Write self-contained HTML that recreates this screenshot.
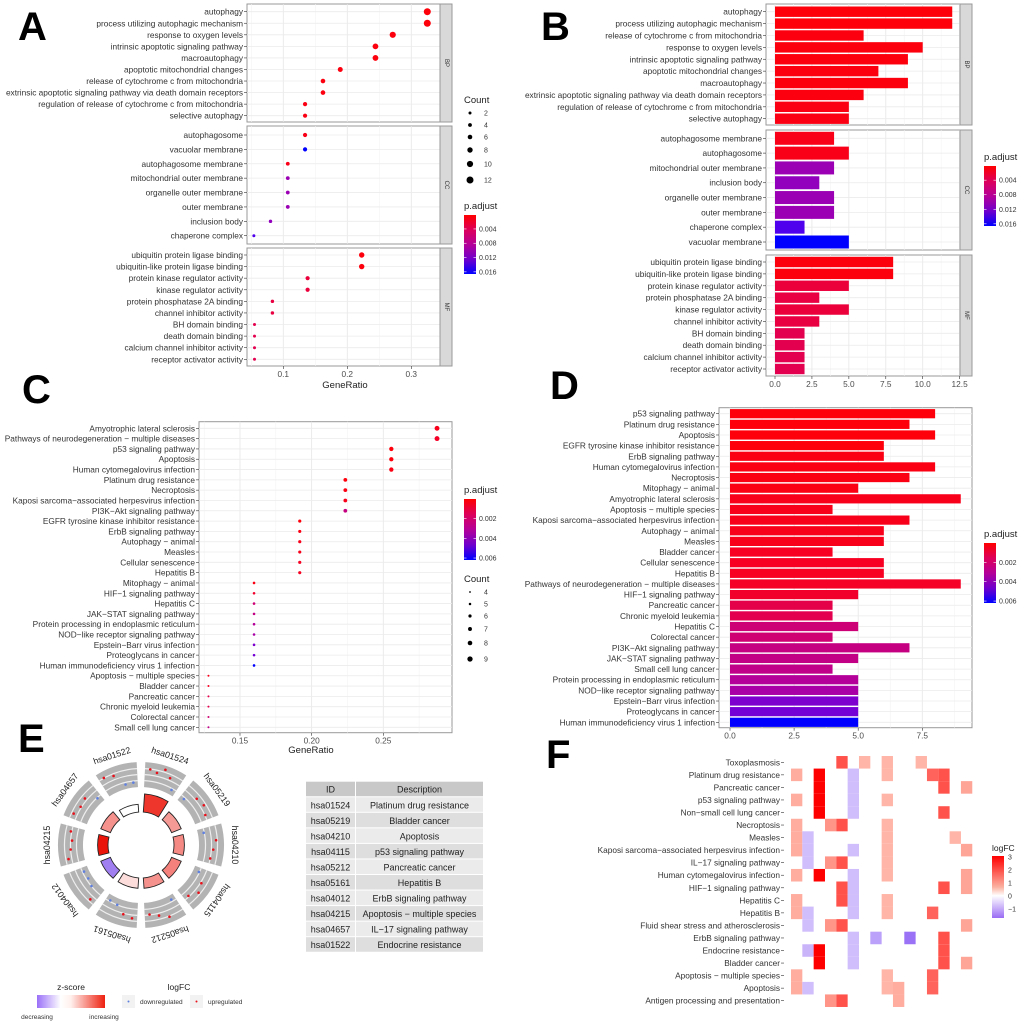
<!DOCTYPE html>
<html><head><meta charset="utf-8"><style>
html,body{margin:0;padding:0;background:#fff;}
svg{display:block;font-family:"Liberation Sans",Arial,sans-serif;}
.lab{font-size:8.3px;fill:#333;}
.tick{font-size:8.3px;fill:#4d4d4d;}
.ttl{font-size:9.5px;fill:#222;}
.leg{font-size:7px;fill:#333;}
.big{font-size:40px;font-weight:bold;fill:#000;}
</style></head><body>
<svg id="fig" width="1020" height="1024" viewBox="0 0 1020 1024">
<text class="big" x="18" y="40">A</text>
<text class="big" x="541" y="40">B</text>
<text class="big" x="22" y="403">C</text>
<text class="big" x="550" y="399">D</text>
<text class="big" x="18" y="752">E</text>
<text class="big" x="546" y="768">F</text>
</svg>
<script>
// ---------- DATA ----------
const aBPTerms=["autophagy","process utilizing autophagic mechanism","response to oxygen levels","intrinsic apoptotic signaling pathway","macroautophagy","apoptotic mitochondrial changes","release of cytochrome c from mitochondria","extrinsic apoptotic signaling pathway via death domain receptors","regulation of release of cytochrome c from mitochondria","selective autophagy"];
const aBPRatio=[0.325,0.325,0.271,0.244,0.244,0.189,0.162,0.162,0.134,0.134];
const aBPCount=[12,12,10,9,9,7,6,6,5,5];
const aBPP=[0.0003,0.0003,0.0004,0.0004,0.0004,0.0005,0.0005,0.0005,0.0006,0.0006];
const aCCTerms=["autophagosome","vacuolar membrane","autophagosome membrane","mitochondrial outer membrane","organelle outer membrane","outer membrane","inclusion body","chaperone complex"];
const aCCRatio=[0.134,0.134,0.107,0.107,0.107,0.107,0.080,0.054];
const aCCCount=[5,5,4,4,4,4,3,2];
const aCCP=[0.0008,0.0166,0.0008,0.0105,0.0105,0.0105,0.0112,0.0150];
const aMFTerms=["ubiquitin protein ligase binding","ubiquitin-like protein ligase binding","protein kinase regulator activity","kinase regulator activity","protein phosphatase 2A binding","channel inhibitor activity","BH domain binding","death domain binding","calcium channel inhibitor activity","receptor activator activity"];
const aMFRatio=[0.2225,0.2225,0.138,0.138,0.083,0.083,0.055,0.055,0.055,0.055];
const aMFCount=[8,8,5,5,3,3,2,2,2,2];
const aMFP=[0.0004,0.0004,0.0025,0.0025,0.0028,0.0028,0.0035,0.0035,0.0035,0.0035];
const aXTicks=[0.1,0.2,0.3];
const aSizeLegend=[2,4,6,8,10,12];

const bBPTerms=["autophagy","process utilizing autophagic mechanism","release of cytochrome c from mitochondria","response to oxygen levels","intrinsic apoptotic signaling pathway","apoptotic mitochondrial changes","macroautophagy","extrinsic apoptotic signaling pathway via death domain receptors","regulation of release of cytochrome c from mitochondria","selective autophagy"];
const bBPCount=[12,12,6,10,9,7,9,6,5,5];
const bBPP=[0.0003,0.0003,0.0005,0.0004,0.0004,0.0005,0.0004,0.0005,0.0006,0.0006];
const bCCTerms=["autophagosome membrane","autophagosome","mitochondrial outer membrane","inclusion body","organelle outer membrane","outer membrane","chaperone complex","vacuolar membrane"];
const bCCCount=[4,5,4,3,4,4,2,5];
const bCCP=[0.0008,0.0008,0.0105,0.0112,0.0105,0.0105,0.0150,0.0166];
const bMFTerms=["ubiquitin protein ligase binding","ubiquitin-like protein ligase binding","protein kinase regulator activity","protein phosphatase 2A binding","kinase regulator activity","channel inhibitor activity","BH domain binding","death domain binding","calcium channel inhibitor activity","receptor activator activity"];
const bMFCount=[8,8,5,3,5,3,2,2,2,2];
const bMFP=[0.0004,0.0004,0.0025,0.0028,0.0025,0.0028,0.0035,0.0035,0.0035,0.0035];
const bXTicks=[0,2.5,5,7.5,10,12.5];

const cTerms=["Amyotrophic lateral sclerosis","Pathways of neurodegeneration \u2212 multiple diseases","p53 signaling pathway","Apoptosis","Human cytomegalovirus infection","Platinum drug resistance","Necroptosis","Kaposi sarcoma\u2212associated herpesvirus infection","PI3K\u2212Akt signaling pathway","EGFR tyrosine kinase inhibitor resistance","ErbB signaling pathway","Autophagy \u2212 animal","Measles","Cellular senescence","Hepatitis B","Mitophagy \u2212 animal","HIF\u22121 signaling pathway","Hepatitis C","JAK\u2212STAT signaling pathway","Protein processing in endoplasmic reticulum","NOD\u2212like receptor signaling pathway","Epstein\u2212Barr virus infection","Proteoglycans in cancer","Human immunodeficiency virus 1 infection","Apoptosis \u2212 multiple species","Bladder cancer","Pancreatic cancer","Chronic myeloid leukemia","Colorectal cancer","Small cell lung cancer"];
const cRatio=[0.2875,0.2875,0.2556,0.2556,0.2556,0.2235,0.2235,0.2235,0.2235,0.1917,0.1917,0.1917,0.1917,0.1917,0.1917,0.1598,0.1598,0.1598,0.1598,0.1598,0.1598,0.1598,0.1598,0.1598,0.128,0.128,0.128,0.128,0.128,0.128];
const cCount=[9,9,8,8,8,7,7,7,7,6,6,6,6,6,6,5,5,5,5,5,5,5,5,5,4,4,4,4,4,4];
const cP=[0.0003,0.0005,0.0001,0.0001,0.0002,0.0001,0.0002,0.0003,0.0025,0.0001,0.0002,0.0003,0.0003,0.0004,0.0004,0.0002,0.0006,0.0022,0.0026,0.0031,0.0035,0.0047,0.0049,0.0062,0.0003,0.0004,0.0012,0.0013,0.0021,0.0027];
const cXTicks=[0.15,0.20,0.25];
const cSizeLegend=[4,5,6,7,8,9];

const dTerms=["p53 signaling pathway","Platinum drug resistance","Apoptosis","EGFR tyrosine kinase inhibitor resistance","ErbB signaling pathway","Human cytomegalovirus infection","Necroptosis","Mitophagy \u2212 animal","Amyotrophic lateral sclerosis","Apoptosis \u2212 multiple species","Kaposi sarcoma\u2212associated herpesvirus infection","Autophagy \u2212 animal","Measles","Bladder cancer","Cellular senescence","Hepatitis B","Pathways of neurodegeneration \u2212 multiple diseases","HIF\u22121 signaling pathway","Pancreatic cancer","Chronic myeloid leukemia","Hepatitis C","Colorectal cancer","PI3K\u2212Akt signaling pathway","JAK\u2212STAT signaling pathway","Small cell lung cancer","Protein processing in endoplasmic reticulum","NOD\u2212like receptor signaling pathway","Epstein\u2212Barr virus infection","Proteoglycans in cancer","Human immunodeficiency virus 1 infection"];
const dCount=[8,7,8,6,6,8,7,5,9,4,7,6,6,4,6,6,9,5,4,4,5,4,7,5,4,5,5,5,5,5];
const dP=[0.0001,0.0001,0.0001,0.0001,0.0002,0.0002,0.0002,0.0002,0.0003,0.0003,0.0003,0.0003,0.0003,0.0004,0.0004,0.0004,0.0005,0.0006,0.0012,0.0013,0.0022,0.0021,0.0025,0.0026,0.0027,0.0031,0.0035,0.0047,0.0049,0.0062];
const dXTicks=[0,2.5,5,7.5];

const eIds=["hsa01524","hsa05219","hsa04210","hsa04115","hsa05212","hsa05161","hsa04012","hsa04215","hsa04657","hsa01522"];
const eDesc=["Platinum drug resistance","Bladder cancer","Apoptosis","p53 signaling pathway","Pancreatic cancer","Hepatitis B","ErbB signaling pathway","Apoptosis \u2212 multiple species","IL\u221217 signaling pathway","Endocrine resistance"];
const eZ=[2.4,1.2,1.4,1.5,1.3,0.4,-1.0,2.8,1.3,0];
const eCountRing=[7,4,4,4,4,4,4,4,4,3];
const eLogFC=[[2.0,1.5,2.6,1.3,-0.8],[-0.8,1.2,1.6,0.9],[-0.6,1.8,1.2,0.8],[-0.6,1.0,1.7,0.6],[-0.9,2.2,1.3,0.7],[1.5,1.0,-0.5,-0.7],[1.6,-0.5,-0.9,-0.8],[1.5,0.8,0.5,1.0],[1.6,1.0,1.3,-0.6],[2.1,1.6,-0.9,-0.8]];

const fRows=["Toxoplasmosis","Platinum drug resistance","Pancreatic cancer","p53 signaling pathway","Non\u2212small cell lung cancer","Necroptosis","Measles","Kaposi sarcoma\u2212associated herpesvirus infection","IL\u221217 signaling pathway","Human cytomegalovirus infection","HIF\u22121 signaling pathway","Hepatitis C","Hepatitis B","Fluid shear stress and atherosclerosis","ErbB signaling pathway","Endocrine resistance","Bladder cancer","Apoptosis \u2212 multiple species","Apoptosis","Antigen processing and presentation"];
const fCells=[
 [[4,2],[6,0.8],[8,0.8],[11,0.8]],
 [[0,0.9],[2,3],[5,-0.7],[8,0.8],[12,1.8],[13,2]],
 [[2,3],[5,-0.7],[13,2],[15,1]],
 [[0,0.9],[2,3],[5,-0.7],[8,0.8]],
 [[2,3],[5,-0.7],[13,2]],
 [[0,0.9],[3,1.2],[4,2],[8,0.8]],
 [[0,0.9],[1,-0.7],[8,0.8],[14,0.8]],
 [[0,0.9],[1,-0.7],[5,-0.7],[8,0.8],[15,1]],
 [[1,-0.7],[3,1.2],[4,2],[8,0.8]],
 [[0,0.9],[2,3],[5,-0.7],[8,0.8],[15,1]],
 [[4,2],[5,-0.7],[13,2],[15,1]],
 [[0,0.9],[4,2],[5,-0.7],[8,0.8]],
 [[0,0.9],[1,-0.7],[5,-0.7],[8,0.8],[12,1.8]],
 [[1,-0.7],[3,1.2],[4,2],[15,1]],
 [[5,-0.7],[7,-1.0],[10,-1.5],[13,2]],
 [[1,-0.8],[2,3],[5,-0.7],[13,2]],
 [[2,3],[5,-0.7],[13,2],[15,1]],
 [[0,0.9],[8,0.8],[12,1.8]],
 [[0,0.9],[1,-0.7],[8,0.8],[9,0.9],[12,1.8]],
 [[3,1.2],[4,2],[9,0.9]]];
const fLegendTicks=[3,2,1,0,-1];

// ---------- HELPERS ----------
const NS="http://www.w3.org/2000/svg";
const svg=document.getElementById('fig');
function mk(tag,attrs,parent,txt){const e=document.createElementNS(NS,tag);for(const k in attrs)e.setAttribute(k,attrs[k]);if(txt!==undefined)e.textContent=txt;(parent||svg).appendChild(e);return e;}
function pcol(p,lo,hi){let t=(p-lo)/(hi-lo);t=Math.max(0,Math.min(1,t));const r=Math.round(255*Math.sqrt(1-t)),b=Math.round(255*Math.pow(t,0.75));return `rgb(${r},0,${b})`;}
function fcol(v){if(v>=0){const t=Math.min(1,v/3);const g=Math.round(255*(1-t)*0.97);return `rgb(255,${g},${Math.round(g*0.92)})`;}const t=Math.min(1,-v/1.7);return `rgb(${Math.round(255-(255-140)*t)},${Math.round(255-(255-95)*t)},${Math.round(255-(255-245)*t)})`;}
function gradDef(id,stops,vertical){let defs=svg.querySelector('defs')||mk('defs',{});const g=mk('linearGradient',{id:id,x1:0,y1:0,x2:vertical?0:1,y2:vertical?1:0},defs);stops.forEach((s,i)=>mk('stop',{offset:s[0],'stop-color':s[1]},g));}
gradDef('pgrad',[[0,'#ff0000'],[0.25,'#dd005a'],[0.5,'#b40098'],[0.75,'#7000cc'],[1,'#0000ff']],true);

function panelBox(x0,x1,y0,y1,name){
  const r=mk('rect',{x:x0,y:y0,width:x1-x0,height:y1-y0,fill:'#fff',stroke:'#999','stroke-width':1});
  
}
function strip(x0,x1,y0,y1,txt,name){
  const r=mk('rect',{x:x0,y:y0,width:x1-x0,height:y1-y0,fill:'#d9d9d9',stroke:'#999','stroke-width':1});
  
  const cx=(x0+x1)/2,cy=(y0+y1)/2;
  const t=mk('text',{x:cx,y:cy,'font-size':6,fill:'#333','text-anchor':'middle','dominant-baseline':'central',transform:`rotate(90 ${cx} ${cy})`},svg,txt);
  
}
function rowLabels(terms,ys,xr,name){
  terms.forEach((s,i)=>{
    mk('line',{x1:xr+1,x2:xr+4,y1:ys[i],y2:ys[i],stroke:'#333','stroke-width':0.6});
    const t=mk('text',{x:xr,y:ys[i]+3,'text-anchor':'end',class:'lab'},svg,s);
    
  });
}
function vgrid(x0,x1,y0,y1,xs,minor){
  minor.filter(x=>x>x0&&x<x1).forEach(x=>mk('line',{x1:x,x2:x,y1:y0,y2:y1,stroke:'#f3f3f3','stroke-width':0.6}));
  xs.filter(x=>x>x0&&x<x1).forEach(x=>mk('line',{x1:x,x2:x,y1:y0,y2:y1,stroke:'#e6e6e6','stroke-width':0.8}));
}
function hgrid(x0,x1,ys){ys.forEach(y=>mk('line',{x1:x0,x2:x1,y1:y,y2:y,stroke:'#ebebeb','stroke-width':0.8}));}
function xTicks(ticks,sx,y,labelfn,name){
  ticks.forEach(v=>{const x=sx(v);mk('line',{x1:x,x2:x,y1:y,y2:y+3,stroke:'#333','stroke-width':0.6});
    const t=mk('text',{x:x,y:y+11,'text-anchor':'middle',class:'tick'},svg,labelfn(v));
    });
}
function colorbar(x,y0,y1,lo,hi,ticks,title,name){
  const tt=mk('text',{x:x,y:y0-6,class:'ttl','font-size':8.5},svg,title);
  
  const r=mk('rect',{x:x,y:y0,width:12,height:y1-y0,fill:'url(#pgrad)'});
  
  ticks.forEach(v=>{const y=y0+(v-lo)/(hi-lo)*(y1-y0);
    mk('line',{x1:x,x2:x+2.5,y1:y,y2:y,stroke:'#fff','stroke-width':0.6});mk('line',{x1:x+9.5,x2:x+12,y1:y,y2:y,stroke:'#fff','stroke-width':0.6});
    const t=mk('text',{x:x+15,y:y+2.5,class:'leg'},svg,v.toFixed(3));});
}
function sizeLegend(x,ys,vals,rf,title,ty,name){
  const tt=mk('text',{x:x,y:ty,class:'ttl','font-size':8.5},svg,title);
  
  vals.forEach((v,i)=>{const c=mk('circle',{cx:x+6,cy:ys[i],r:rf(v),fill:'#000'});
    
    const t=mk('text',{x:x+20,y:ys[i]+2.5,class:'leg'},svg,String(v));});
}
function rowsY(n,first,last){const o=[];for(let i=0;i<n;i++)o.push(n===1?first:first+(last-first)*i/(n-1));return o;}

// ---------- PANEL A ----------
(function(){
  const x0=247,x1=440,sx=v=>283.3+(v-0.1)*640;
  const rA=c=>1.1+c*0.2;
  const facets=[[aBPTerms,aBPRatio,aBPCount,aBPP,4,122,11.7,115.7,'BP'],[aCCTerms,aCCRatio,aCCCount,aCCP,126,244,135,235.7,'CC'],[aMFTerms,aMFRatio,aMFCount,aMFP,248,366,255,359.3,'MF']];
  facets.forEach(f=>{
    const [terms,ratio,count,pv,y0,y1,fy,ly,lab]=f;
    panelBox(x0,x1,y0,y1,'panel-a-facet-'+lab.toLowerCase());
    const ys=rowsY(terms.length,fy,ly);
    vgrid(x0,x1,y0,y1,aXTicks.map(sx),[0.15,0.25].map(sx).concat([sx(0.05)]));
    hgrid(x0,x1,ys);
    strip(x1,452,y0,y1,lab,'panel-a-strip-'+lab.toLowerCase());
    rowLabels(terms,ys,243,'panel-a-'+lab.toLowerCase());
    terms.forEach((s,i)=>{const c=mk('circle',{cx:sx(ratio[i]),cy:ys[i],r:rA(count[i]),fill:pcol(pv[i],0.0001,0.0166)});
      });
  });
  xTicks(aXTicks,sx,366,v=>v.toFixed(1),'panel-a-x-tick');
  const t=mk('text',{x:345,y:388,'text-anchor':'middle',class:'ttl','font-size':8.5},svg,'GeneRatio');
  
  sizeLegend(464,[113,125,137,150,164,180],aSizeLegend,rA,'Count',103,'panel-a-count-legend');
  colorbar(464,215,274,0.0001,0.0166,[0.004,0.008,0.012,0.016],'p.adjust','panel-a-padjust-legend');
})();

// ---------- PANEL B ----------
(function(){
  const x0=766,x1=960,sx=v=>775+v*14.77;
  const facets=[[bBPTerms,bBPCount,bBPP,4,125,11.7,118.7,'BP',10.4],[bCCTerms,bCCCount,bCCP,130,250,138.3,242,'CC',13],[bMFTerms,bMFCount,bMFP,255,376,262,369,'MF',10.4]];
  facets.forEach(f=>{
    const [terms,count,pv,y0,y1,fy,ly,lab,bh]=f;
    panelBox(x0,x1,y0,y1,'panel-b-facet-'+lab.toLowerCase());
    const ys=rowsY(terms.length,fy,ly);
    vgrid(x0,x1,y0,y1,bXTicks.map(sx),[1.25,3.75,6.25,8.75,11.25].map(sx));
    hgrid(x0,x1,ys);
    strip(x1,972,y0,y1,lab,'panel-b-strip-'+lab.toLowerCase());
    rowLabels(terms,ys,762,'panel-b-'+lab.toLowerCase());
    terms.forEach((s,i)=>{const r=mk('rect',{x:sx(0),y:ys[i]-bh/2,width:sx(count[i])-sx(0),height:bh,fill:pcol(pv[i],0.0001,0.0166)});
      });
  });
  xTicks(bXTicks,sx,376,v=>v.toFixed(1),'panel-b-x-tick');
  colorbar(984,166,226,0.0001,0.0166,[0.004,0.008,0.012,0.016],'p.adjust','panel-b-padjust-legend');
})();

// ---------- PANEL C ----------
(function(){
  const x0=199,x1=452,y0=421.7,y1=732.7,sx=v=>240+(v-0.15)*1433;
  const rC=c=>1.0+(c-4)*0.29;
  panelBox(x0,x1,y0,y1,'panel-c-plot');
  const ys=rowsY(cTerms.length,428.3,727.3);
  vgrid(x0,x1,y0,y1,cXTicks.map(sx),[0.125,0.175,0.225,0.275].map(sx));
  hgrid(x0,x1,ys);
  rowLabels(cTerms,ys,195,'panel-c');
  cTerms.forEach((s,i)=>{const c=mk('circle',{cx:sx(cRatio[i]),cy:ys[i],r:rC(cCount[i]),fill:pcol(cP[i],0,0.0062)});
    });
  xTicks(cXTicks,sx,732.7,v=>v.toFixed(2),'panel-c-x-tick');
  const t=mk('text',{x:311,y:753,'text-anchor':'middle',class:'ttl','font-size':8.5},svg,'GeneRatio');
  
  colorbar(464,499,560,0,0.0062,[0.002,0.004,0.006],'p.adjust','panel-c-padjust-legend');
  sizeLegend(464,[592,604,616,629,643,659],cSizeLegend,c=>0.9+(c-4)*0.35,'Count',582,'panel-c-count-legend');
})();

// ---------- PANEL D ----------
(function(){
  const x0=719,x1=972,y0=407.7,y1=727.7,sx=v=>730+v*25.64;
  panelBox(x0,x1,y0,y1,'panel-d-plot');
  const ys=rowsY(dTerms.length,413.7,722.3);
  vgrid(x0,x1,y0,y1,dXTicks.map(sx),[1.25,3.75,6.25,8.75].map(sx));
  hgrid(x0,x1,ys);
  rowLabels(dTerms,ys,715,'panel-d');
  dTerms.forEach((s,i)=>{const r=mk('rect',{x:sx(0),y:ys[i]-4.6,width:sx(dCount[i])-sx(0),height:9.2,fill:pcol(dP[i],0,0.0062)});
    });
  xTicks(dXTicks,sx,727.7,v=>v.toFixed(1),'panel-d-x-tick');
  colorbar(984,543,603,0,0.0062,[0.002,0.004,0.006],'p.adjust','panel-d-padjust-legend');
})();

// ---------- PANEL E (GOCircle) ----------
(function(){
  const cx=141,cy=845;
  const pt=(r,a)=>{const t=(a-90)*Math.PI/180;return [cx+r*Math.cos(t),cy+r*Math.sin(t)];};
  const arc=(r0,r1,a0,a1)=>{const p1=pt(r1,a0),p2=pt(r1,a1),p3=pt(r0,a1),p4=pt(r0,a0);
    return `M${p1[0]},${p1[1]} A${r1},${r1} 0 0 1 ${p2[0]},${p2[1]} L${p3[0]},${p3[1]} A${r0},${r0} 0 0 0 ${p4[0]},${p4[1]} Z`;};
  eIds.forEach((id,i)=>{
    const ac=18+36*i,a0=ac-15,a1=ac+15;
    const g=mk('path',{d:arc(58,83,a0,a1),fill:'#b3b3b3'});
    
    [64.5,70.5,76.5].forEach(r=>{const p1=pt(r,a0),p2=pt(r,a1);mk('path',{d:`M${p1[0]},${p1[1]} A${r},${r} 0 0 1 ${p2[0]},${p2[1]}`,fill:'none',stroke:'#eee','stroke-width':1.2});});
    const lf=eLogFC[i];
    lf.forEach((v,k)=>{const a=a0+4+(22*k/(lf.length-1||1));const r=61+(v+1.2)/4*19;const p=pt(r,a);
      const d=mk('circle',{cx:p[0],cy:p[1],r:1.3,fill:v>0?'#e8101a':'#6080e0'});
      });
    const z=eZ[i];
    const col=z>=0?`rgb(${Math.round(255-(255-235)*Math.min(1,z/2.8))},${Math.round(255-(255-20)*Math.min(1,z/2.8))},${Math.round(255-(255-10)*Math.min(1,z/2.8))})`:'#a080f0';
    const ro=33+eCountRing[i]*2.6;
    const s=mk('path',{d:arc(33,ro,a0+1,a1-1),fill:col,stroke:'#222','stroke-width':0.9});
    
    const lp=pt(94,ac);
    const t=mk('text',{x:lp[0],y:lp[1],'text-anchor':'middle','dominant-baseline':'central','font-size':8.8,fill:'#222',transform:`rotate(${ac} ${lp[0]} ${lp[1]})`},svg,id);
    
  });
  const tx=306,tw1=49,tw2=127,ty=781.7,rh=15.55;
  const hdr=[['ID',tx,tw1],['Description',tx+tw1+1,tw2]];
  hdr.forEach(h=>{mk('rect',{x:h[1],y:ty,width:h[2],height:rh-1,fill:'#c8c8c8'});
    const t=mk('text',{x:h[1]+h[2]/2,y:ty+11,'text-anchor':'middle','font-size':9,fill:'#222'},svg,h[0]);
    });
  eIds.forEach((id,i)=>{const y=ty+rh*(i+1);const bg=i%2?'#dedede':'#ebebeb';
    mk('rect',{x:tx,y:y,width:tw1,height:rh-1,fill:bg});mk('rect',{x:tx+tw1+1,y:y,width:tw2,height:rh-1,fill:bg});
    const a=mk('text',{x:tx+tw1/2,y:y+11,'text-anchor':'middle','font-size':9,fill:'#222'},svg,id);
    
    const b=mk('text',{x:tx+tw1+1+tw2/2,y:y+11,'text-anchor':'middle','font-size':9,fill:'#222'},svg,eDesc[i]);
    });
  gradDef('zgrad',[[0,'#9a70f8'],[0.35,'#ffffff'],[0.5,'#fff0ec'],[1,'#ee2010']],false);
  const zt=mk('text',{x:71,y:990,'text-anchor':'middle','font-size':8.5,fill:'#222'},svg,'z-score');
  const zr=mk('rect',{x:37,y:995,width:68,height:13,fill:'url(#zgrad)'});
  const d1=mk('text',{x:37,y:1019,'text-anchor':'middle','font-size':6.5,fill:'#333'},svg,'decreasing');
  const d2=mk('text',{x:104,y:1019,'text-anchor':'middle','font-size':6.5,fill:'#333'},svg,'increasing');
  const lt=mk('text',{x:179,y:990,'text-anchor':'middle','font-size':8.5,fill:'#222'},svg,'logFC');
  [[122,'#6080e0','downregulated',140],[190,'#e8101a','upregulated',208]].forEach(k=>{
    mk('rect',{x:k[0],y:995,width:13,height:13,fill:'#f2f2f2'});
    const c=mk('circle',{cx:k[0]+6.5,cy:1001.5,r:1,fill:k[1]});
    const t=mk('text',{x:k[3],y:1004,'font-size':6.5,fill:'#333'},svg,k[2]);});
})();

// ---------- PANEL F (heatmap) ----------
(function(){
  const gx=791,cw=11.33,ys=rowsY(fRows.length,762.3,1000.7),rh=12.55;
  rowLabels(fRows,ys,780,'panel-f');
  fRows.forEach((r,i)=>{fCells[i].forEach(c=>{
    const e=mk('rect',{x:gx+c[0]*cw,y:ys[i]-rh/2,width:cw,height:rh,fill:fcol(c[1])});
    });});
  gradDef('fgrad',[[0,'#ff0000'],[0.5,'#fbb0a0'],[0.64,'#ffffff'],[1,'#9a6cf4']],true);
  const t=mk('text',{x:992,y:851,'font-size':8.5,fill:'#222'},svg,'logFC');
  const b=mk('rect',{x:992,y:856,width:12,height:62,fill:'url(#fgrad)'});
  fLegendTicks.forEach(v=>{const y=857+(3-v)*13;
    const l=mk('text',{x:1008,y:y+2.5,class:'leg'},svg,String(v).replace('-','\u2212'));});
})();
</script>
</body></html>
